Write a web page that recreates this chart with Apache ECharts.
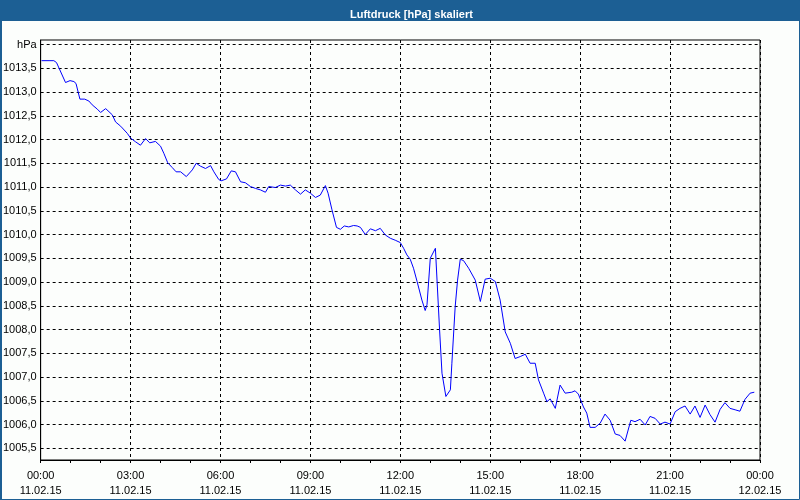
<!DOCTYPE html>
<html>
<head>
<meta charset="utf-8">
<script src="https://cdn.jsdelivr.net/npm/echarts@6/dist/echarts.min.js"></script>
<style>html,body{margin:0;padding:0;background:#fcfefc}#c{width:800px;height:500px}</style>
</head>
<body>
<div id="c"></div>
<script>
const titleText = 'Luftdruck [hPa] skaliert';
const hours = [0.03,0.28,0.31,0.44,0.53,0.83,0.98,1.11,1.18,1.31,
1.47,1.61,1.72,1.89,2.0,2.17,2.39,2.5,2.67,2.89,
3.0,3.17,3.33,3.5,3.64,3.83,4.0,4.11,4.24,4.39,
4.52,4.67,4.86,5.06,5.19,5.33,5.5,5.67,5.78,5.94,
6.02,6.2,6.36,6.5,6.67,6.83,7.0,7.17,7.33,7.5,
7.61,7.83,8.0,8.17,8.33,8.5,8.67,8.83,9.0,9.17,
9.33,9.5,9.59,9.72,9.87,10.0,10.13,10.28,10.44,10.56,
10.67,10.83,11.0,11.17,11.33,11.5,11.67,11.83,12.0,12.11,
12.22,12.33,12.44,12.56,12.72,12.83,12.89,13.0,13.17,13.31,
13.39,13.52,13.67,13.72,13.83,13.91,14.0,14.11,14.28,14.5,
14.67,14.83,15.0,15.17,15.33,15.5,15.67,15.83,16.0,16.17,
16.33,16.5,16.61,16.78,16.89,17.0,17.17,17.33,17.5,17.72,
17.83,17.94,18.11,18.22,18.33,18.5,18.67,18.83,19.0,19.17,
19.33,19.5,19.69,19.83,20.0,20.17,20.33,20.5,20.67,20.83,
21.0,21.17,21.33,21.5,21.67,21.83,22.0,22.17,22.33,22.5,
22.67,22.83,23.0,23.17,23.33,23.5,23.67,23.81];
const pressure = [1013.66,1013.66,1013.69,1013.66,1013.62,1013.20,1013.24,1013.22,1013.18,1012.85,
1012.85,1012.81,1012.73,1012.64,1012.57,1012.65,1012.52,1012.37,1012.28,1012.13,
1012.03,1011.95,1011.88,1012.02,1011.93,1011.96,1011.86,1011.71,1011.51,1011.41,
1011.32,1011.32,1011.22,1011.36,1011.50,1011.44,1011.39,1011.45,1011.32,1011.16,
1011.13,1011.17,1011.34,1011.32,1011.11,1011.09,1011.01,1010.97,1010.94,1010.89,
1011.01,1010.99,1011.04,1011.02,1011.04,1010.94,1010.85,1010.94,1010.87,1010.78,
1010.83,1011.03,1010.87,1010.52,1010.15,1010.11,1010.18,1010.16,1010.19,1010.18,
1010.15,1010.00,1010.12,1010.08,1010.13,1009.99,1009.92,1009.88,1009.83,1009.71,
1009.57,1009.48,1009.29,1009.01,1008.62,1008.40,1008.52,1009.50,1009.71,1007.99,
1007.08,1006.59,1006.73,1007.29,1008.48,1009.04,1009.48,1009.45,1009.29,1009.04,
1008.59,1009.06,1009.08,1009.01,1008.62,1007.95,1007.71,1007.39,1007.43,1007.48,
1007.29,1007.29,1006.94,1006.66,1006.48,1006.54,1006.34,1006.83,1006.66,1006.68,
1006.71,1006.64,1006.37,1006.24,1005.94,1005.94,1006.03,1006.22,1006.09,1005.80,
1005.77,1005.65,1006.09,1006.06,1006.11,1005.99,1006.17,1006.13,1006.01,1006.05,
1006.01,1006.27,1006.34,1006.39,1006.22,1006.39,1006.15,1006.41,1006.21,1006.05,
1006.32,1006.46,1006.34,1006.31,1006.28,1006.53,1006.66,1006.68];
const xTickHours = [0,3,6,9,12,15,18,21,24];
const xTimeLabels = ['00:00','03:00','06:00','09:00','12:00','15:00','18:00','21:00','00:00'];
const xDateLabels = ['11.02.15','11.02.15','11.02.15','11.02.15','11.02.15','11.02.15','11.02.15','11.02.15','12.02.15'];
const yTickValues = [1005.5,1006,1006.5,1007,1007.5,1008,1008.5,1009,1009.5,1010,1010.5,1011,1011.5,1012,1012.5,1013,1013.5,1014];
const yTickLabels = ['1005,5','1006,0','1006,5','1007,0','1007,5','1008,0','1008,5','1009,0','1009,5','1010,0','1010,5','1011,0','1011,5','1012,0','1012,5','1013,0','1013,5','hPa'];

const FONT = 'Liberation Sans';
const BLUE = '#1c5f94';
const chart = echarts.init(document.getElementById('c'), null, {renderer: 'canvas'});
chart.setOption({
  backgroundColor: '#fcfefc',
  animation: false,
  title: {
    text: titleText, left: 345, top: 4,
    textStyle: {color: '#ffffff', fontWeight: 'bold', fontSize: 11, fontFamily: FONT}
  },
  graphic: [
    {type: 'rect', z: -1, shape: {x: 0, y: 0, width: 800, height: 21}, style: {fill: BLUE}},
    {type: 'rect', z: -1, shape: {x: 0.5, y: 0.5, width: 799, height: 499}, style: {fill: null, stroke: BLUE, lineWidth: 1}},
    {type: 'rect', z: -1, shape: {x: 0, y: 0, width: 2, height: 500}, style: {fill: BLUE}}
  ],
  grid: {left: 40, right: 40, top: 40, bottom: 40, show: true, borderColor: '#000', borderWidth: 1, backgroundColor: 'transparent'},
  xAxis: {
    type: 'value', min: 0, max: 24, interval: 3,
    axisLine: {show: true, lineStyle: {color: '#000', width: 1}},
    axisTick: {show: true, length: 3, lineStyle: {color: '#000'}},
    minorTick: {show: true, splitNumber: 3, length: 3, lineStyle: {color: '#000'}},
    axisLabel: {
      margin: 8, color: '#000', fontSize: 11, fontFamily: FONT, lineHeight: 15.5,
      formatter: function (v) {
        const i = xTickHours.indexOf(v);
        return i < 0 ? '' : xTimeLabels[i] + '\n' + xDateLabels[i];
      }
    },
    splitLine: {show: true, lineStyle: {color: '#000', type: [3, 3], width: 1}}
  },
  yAxis: {
    type: 'value', min: 1005.253, max: 1014.095,
    axisLine: {show: true, lineStyle: {color: '#000', width: 1}},
    axisTick: {show: false, customValues: yTickValues},
    axisLabel: {
      customValues: yTickValues, margin: 4, color: '#000', fontSize: 11, fontFamily: FONT,
      formatter: function (v) {
        let best = 0;
        yTickValues.forEach(function (t, i) { if (Math.abs(t - v) < Math.abs(yTickValues[best] - v)) best = i; });
        return yTickLabels[best];
      }
    },
    splitLine: {show: true, lineStyle: {color: '#000', type: [3, 3], width: 1}}
  },
  series: [{
    type: 'line',
    data: hours.map(function (h, i) { return [h, pressure[i]]; }),
    showSymbol: false, symbol: 'none', smooth: false,
    lineStyle: {color: '#0000ff', width: 1},
    clip: true
  }]
});
</script>
</body>
</html>
